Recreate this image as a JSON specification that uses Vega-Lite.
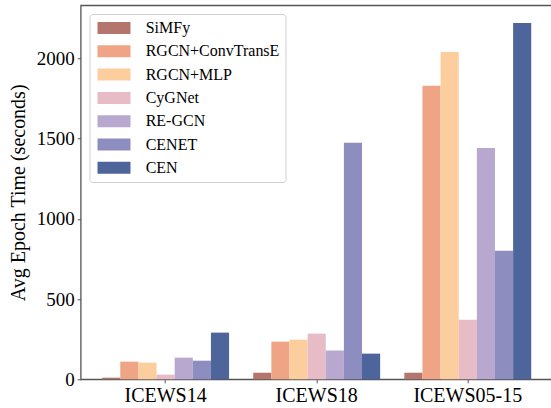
{
  "$schema": "https://vega.github.io/schema/vega-lite/v6.json",
  "autosize": "none",
  "width": 472,
  "height": 374,
  "padding": {"left": 80.7, "top": 5.3, "right": 0, "bottom": 28.7},
  "background": "white",
  "config": {
    "font": "Liberation Serif",
    "view": {"stroke": "#555555", "strokeWidth": 1.3},
    "axis": {"grid": false, "domain": false, "tickColor": "#555555", "tickSize": 3.5, "tickWidth": 1, "labelColor": "#000000", "titleColor": "#000000", "labelFont": "Liberation Serif", "titleFont": "Liberation Serif", "titleFontWeight": "normal"},
    "legend": {"labelFont": "Liberation Serif"}
  },
  "data": {
    "values": [
      {"dataset": "ICEWS14", "model": "SiMFy", "time": 10},
      {"dataset": "ICEWS14", "model": "RGCN+ConvTransE", "time": 110},
      {"dataset": "ICEWS14", "model": "RGCN+MLP", "time": 104},
      {"dataset": "ICEWS14", "model": "CyGNet", "time": 29},
      {"dataset": "ICEWS14", "model": "RE-GCN", "time": 135},
      {"dataset": "ICEWS14", "model": "CENET", "time": 116},
      {"dataset": "ICEWS14", "model": "CEN", "time": 291},
      {"dataset": "ICEWS18", "model": "SiMFy", "time": 41},
      {"dataset": "ICEWS18", "model": "RGCN+ConvTransE", "time": 235},
      {"dataset": "ICEWS18", "model": "RGCN+MLP", "time": 247},
      {"dataset": "ICEWS18", "model": "CyGNet", "time": 285},
      {"dataset": "ICEWS18", "model": "RE-GCN", "time": 179},
      {"dataset": "ICEWS18", "model": "CENET", "time": 1475},
      {"dataset": "ICEWS18", "model": "CEN", "time": 160},
      {"dataset": "ICEWS05-15", "model": "SiMFy", "time": 41},
      {"dataset": "ICEWS05-15", "model": "RGCN+ConvTransE", "time": 1830},
      {"dataset": "ICEWS05-15", "model": "RGCN+MLP", "time": 2041},
      {"dataset": "ICEWS05-15", "model": "CyGNet", "time": 372},
      {"dataset": "ICEWS05-15", "model": "RE-GCN", "time": 1443},
      {"dataset": "ICEWS05-15", "model": "CENET", "time": 802},
      {"dataset": "ICEWS05-15", "model": "CEN", "time": 2222}
    ]
  },
  "mark": {"type": "bar"},
  "encoding": {
    "x": {
      "field": "dataset", "type": "nominal",
      "sort": ["ICEWS14", "ICEWS18", "ICEWS05-15"],
      "scale": {"paddingInner": 0.16, "paddingOuter": 0.142},
      "axis": {"title": null, "labelAngle": 0, "labelFontSize": 20, "labelPadding": 3}
    },
    "xOffset": {
      "field": "model", "type": "nominal",
      "sort": ["SiMFy", "RGCN+ConvTransE", "RGCN+MLP", "CyGNet", "RE-GCN", "CENET", "CEN"],
      "scale": {"paddingInner": 0, "paddingOuter": 0}
    },
    "y": {
      "field": "time", "type": "quantitative",
      "scale": {"domain": [0, 2332], "nice": false},
      "axis": {"title": "Avg Epoch Time (seconds)", "values": [0, 500, 1000, 1500, 2000], "format": "d", "labelFontSize": 19, "titleFontSize": 20, "labelPadding": 3, "titlePadding": 8}
    },
    "color": {
      "field": "model", "type": "nominal",
      "sort": ["SiMFy", "RGCN+ConvTransE", "RGCN+MLP", "CyGNet", "RE-GCN", "CENET", "CEN"],
      "scale": {
        "domain": ["SiMFy", "RGCN+ConvTransE", "RGCN+MLP", "CyGNet", "RE-GCN", "CENET", "CEN"],
        "range": ["#b4766c", "#efa585", "#fccd9d", "#e7bcc6", "#b8a8cf", "#8d8dbf", "#4e659b"]
      },
      "legend": {
        "title": null,
        "orient": "none",
        "legendX": 8.8,
        "legendY": 8.7,
        "padding": 6,
        "strokeColor": "#d0d0d0",
        "fillColor": "white",
        "cornerRadius": 3,
        "symbolType": "M-1,-1H4.5V1H-1Z",
        "symbolSize": 144,
        "symbolStrokeWidth": 0,
        "symbolOpacity": 1,
        "labelFontSize": 16,
        "labelOffset": 34.2,
        "rowPadding": 7.3,
        "labelColor": "#000000"
      }
    }
  }
}
